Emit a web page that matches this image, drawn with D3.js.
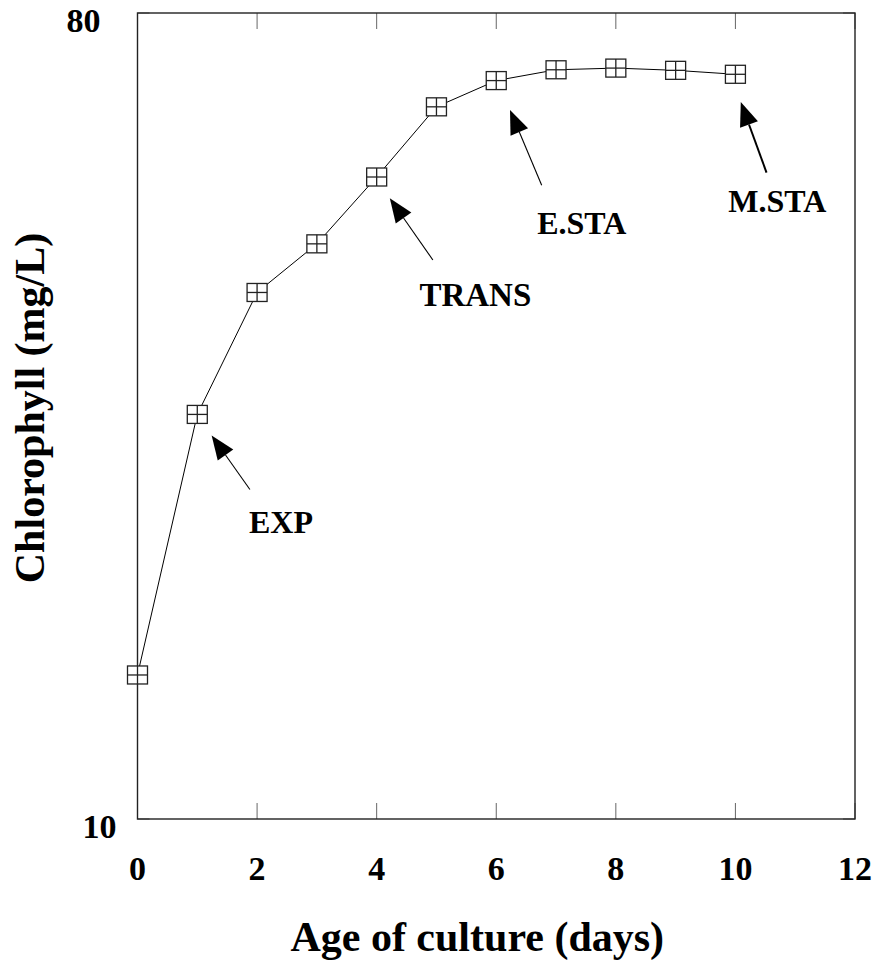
<!DOCTYPE html>
<html>
<head>
<meta charset="utf-8">
<script src="https://cdn.jsdelivr.net/npm/d3@7"></script>
<style>
  body { margin: 0; background: #fff; }
  text { font-family: "Liberation Serif", "Times New Roman", serif; font-weight: bold; fill: #000; }
</style>
</head>
<body>
<div id="chart"></div>
<script>
// chlorophyll growth curve
const days = [0, 1, 2, 3, 4, 5, 6, 7, 8, 9, 10];
const chlorophyll = [14.5, 28.4, 38.9, 44.1, 52.4, 62.8, 67.2, 69.1, 69.4, 69.0, 68.3];
const xTicks = [0, 2, 4, 6, 8, 10, 12];
const yTicks = [10, 80];

// growth phase annotations (data units)
const phaseLabels = ["EXP", "TRANS", "E.STA", "M.STA"];
const arrowTips = [[1.24, 26.9], [4.22, 49.6], [6.23, 62.3], [10.09, 63.6]];
const arrowTails = [[1.88, 23.4], [4.94, 42.3], [6.76, 51.3], [10.52, 53.0]];
const labelPos = [[2.40, 20.9], [5.65, 37.6], [7.43, 45.2], [10.70, 47.9]];

const W = 872, H = 967;
const pl = 137.5, pr = 855, pt = 13, pb = 819;

const svg = d3.select("#chart").append("svg")
  .attr("width", W)
  .attr("height", H);

const x = d3.scaleLinear().domain([0, 12]).range([pl, pr]);
const y = d3.scaleLog().domain([10, 80]).range([pb, pt]);

// ticks, inside on all four sides
const tickLen = 16;
const g = svg.append("g");
g.selectAll(".xtb").data(xTicks).enter().append("line")
  .attr("x1", d => x(d)).attr("x2", d => x(d))
  .attr("y1", pb).attr("y2", pb - tickLen)
  .attr("stroke", "#666").attr("stroke-width", 1);
g.selectAll(".xtt").data(xTicks).enter().append("line")
  .attr("x1", d => x(d)).attr("x2", d => x(d))
  .attr("y1", pt).attr("y2", pt + tickLen)
  .attr("stroke", "#666").attr("stroke-width", 1);
g.selectAll(".ytl").data(yTicks).enter().append("line")
  .attr("x1", pl).attr("x2", pl + 12)
  .attr("y1", d => y(d)).attr("y2", d => y(d))
  .attr("stroke", "#666").attr("stroke-width", 1);
g.selectAll(".ytr").data(yTicks).enter().append("line")
  .attr("x1", pr).attr("x2", pr - 12)
  .attr("y1", d => y(d)).attr("y2", d => y(d))
  .attr("stroke", "#666").attr("stroke-width", 1);

// frame
svg.append("rect")
  .attr("x", pl).attr("y", pt)
  .attr("width", pr - pl).attr("height", pb - pt)
  .attr("fill", "none")
  .attr("stroke", "#222")
  .attr("stroke-width", 1.4);

// tick labels
svg.selectAll(".xl").data(xTicks).enter().append("text")
  .attr("x", d => x(d))
  .attr("y", pb + 61)
  .attr("text-anchor", "middle")
  .style("font-size", "34px")
  .text(d => d);

svg.selectAll(".yl").data(yTicks).enter().append("text")
  .attr("x", (d, i) => i === 0 ? pl - 21 : pl - 37)
  .attr("y", d => y(d) + 19)
  .attr("text-anchor", "end")
  .style("font-size", "34px")
  .text(d => d);

// axis titles
svg.append("text")
  .attr("x", (pl + pr) / 2 - 19)
  .attr("y", 951)
  .attr("text-anchor", "middle")
  .style("font-size", "42px")
  .text("Age of culture (days)");

svg.append("text")
  .attr("transform", "translate(44," + 408 + ") rotate(-90)")
  .attr("text-anchor", "middle")
  .style("font-size", "42px")
  .text("Chlorophyll (mg/L)");

// data line
const pts = days.map((d, i) => [d, chlorophyll[i]]);
const line = d3.line().x(d => x(d[0])).y(d => y(d[1]));
svg.append("path")
  .attr("d", line(pts))
  .attr("fill", "none")
  .attr("stroke", "#000")
  .attr("stroke-width", 1);

// square markers with cross
const mw = 20, mh = 18;
const mk = svg.selectAll(".mk").data(pts).enter().append("g")
  .attr("transform", d => "translate(" + x(d[0]) + "," + y(d[1]) + ")");
mk.append("rect")
  .attr("x", -mw / 2).attr("y", -mh / 2)
  .attr("width", mw).attr("height", mh)
  .attr("fill", "#fff").attr("stroke", "#222").attr("stroke-width", 1.3);
mk.append("line")
  .attr("x1", -mw / 2).attr("x2", mw / 2).attr("y1", 0).attr("y2", 0)
  .attr("stroke", "#222").attr("stroke-width", 1.3);
mk.append("line")
  .attr("x1", 0).attr("x2", 0).attr("y1", -mh / 2).attr("y2", mh / 2)
  .attr("stroke", "#222").attr("stroke-width", 1.3);

// annotation arrows
phaseLabels.forEach(function (lab, i) {
  const tx = x(arrowTips[i][0]), ty = y(arrowTips[i][1]);
  const sx = x(arrowTails[i][0]), sy = y(arrowTails[i][1]);
  const len = Math.hypot(tx - sx, ty - sy);
  const ux = (tx - sx) / len, uy = (ty - sy) / len;
  const headL = 24, headW = 9.5;
  const bx = tx - ux * headL, by = ty - uy * headL;

  svg.append("line")
    .attr("x1", sx).attr("y1", sy).attr("x2", bx).attr("y2", by)
    .attr("stroke", "#000")
    .attr("stroke-width", i === 3 ? 2 : 1.1);

  svg.append("path")
    .attr("d", d3.line()([
      [tx, ty],
      [bx - uy * headW, by + ux * headW],
      [bx + uy * headW, by - ux * headW]
    ]) + "Z")
    .attr("fill", "#000");

  svg.append("text")
    .attr("x", x(labelPos[i][0]))
    .attr("y", y(labelPos[i][1]))
    .attr("text-anchor", "middle")
    .style("font-size", i === 1 ? "33px" : "32px")
    .text(lab);
});
</script>
</body>
</html>
